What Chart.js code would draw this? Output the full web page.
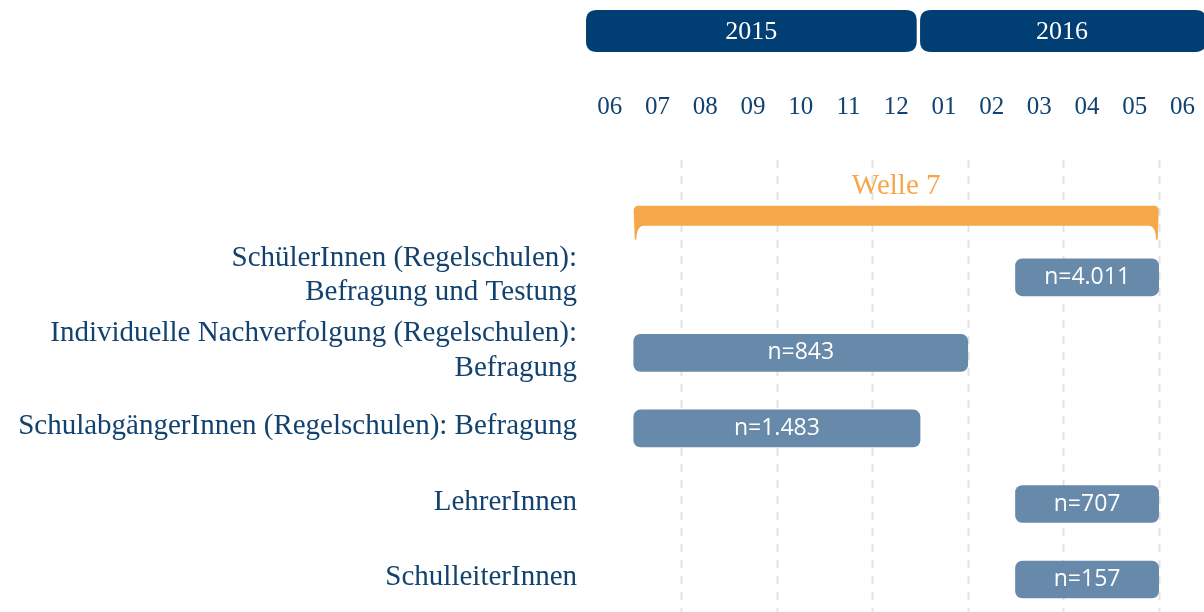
<!DOCTYPE html>
<html><head><meta charset="utf-8">
<script src="https://cdn.jsdelivr.net/npm/chart.js@4/dist/chart.umd.min.js"></script>
<style>html,body{margin:0;padding:0;background:#fff;overflow:hidden}#wrap{width:1204px;height:612px;position:relative}</style>
</head><body><div id="wrap"><canvas id="c" width="1204" height="612" style="width:1204px;height:612px"></canvas></div>
<script>
const monthLabels = ['06','07','08','09','10','11','12','01','02','03','04','05','06'];
const years = ['2015','2016'];
const yearStart = [-0.5, 6.5];
const yearEnd = [6.43, 12.5];
const categories = [
  ['SchülerInnen (Regelschulen):','Befragung und Testung'],
  ['Individuelle Nachverfolgung (Regelschulen):','Befragung'],
  'SchulabgängerInnen (Regelschulen): Befragung',
  'LehrerInnen',
  'SchulleiterInnen'
];
const barStart = [8.5, 0.5, 0.5, 8.5, 8.5];
const barEnd = [11.5, 7.5, 6.5, 11.5, 11.5];
const sampleLabels = ['n=4.011','n=843','n=1.483','n=707','n=157'];
const waveLabel = 'Welle 7';
const waveStart = [0.5];
const waveEnd = [11.5];
const gridPositions = [1.5, 3.5, 5.5, 7.5, 9.5, 11.5];

const DARK = '#003e73';
const TEXT = '#12426f';
const BAR = '#678aab';
const ORANGE = '#f5a84a';
const SERIF = '"Liberation Serif", "DejaVu Serif", serif';
const SANS = '"Open Sans", "Noto Sans", sans-serif';

function rr(ctx, x, y, w, h, r) {
  ctx.beginPath();
  ctx.moveTo(x + r, y);
  ctx.lineTo(x + w - r, y);
  ctx.quadraticCurveTo(x + w, y, x + w, y + r);
  ctx.lineTo(x + w, y + h - r);
  ctx.quadraticCurveTo(x + w, y + h, x + w - r, y + h);
  ctx.lineTo(x + r, y + h);
  ctx.quadraticCurveTo(x, y + h, x, y + h - r);
  ctx.lineTo(x, y + r);
  ctx.quadraticCurveTo(x, y, x + r, y);
  ctx.closePath();
}

function noPad(s) { s.paddingLeft = 0; s.paddingRight = 0; s.paddingTop = 0; s.paddingBottom = 0; }

const deco = {
  id: 'deco',
  beforeDatasetsDraw(chart) {
    const ctx = chart.ctx, xs = chart.scales.x, ys = chart.scales.y, ca = chart.chartArea;
    ctx.save();
    // dashed grid
    ctx.strokeStyle = '#e3e3e3';
    ctx.lineWidth = 2;
    ctx.setLineDash([8, 8]);
    gridPositions.forEach(g => {
      const x = Math.round(xs.getPixelForValue(g)) + 0.5;
      ctx.beginPath();
      ctx.moveTo(x, ca.top - 4);
      ctx.lineTo(x, ca.bottom);
      ctx.stroke();
    });
    ctx.setLineDash([]);
    // year bars
    years.forEach((yr, i) => {
      const x0 = xs.getPixelForValue(yearStart[i]);
      const x1 = xs.getPixelForValue(yearEnd[i]);
      ctx.fillStyle = DARK;
      rr(ctx, x0, 10, x1 - x0, 42, 11);
      ctx.fill();
      ctx.fillStyle = '#ffffff';
      ctx.font = '26px ' + SERIF;
      ctx.textAlign = 'center';
      ctx.textBaseline = 'middle';
      ctx.fillText(yr, (x0 + Math.min(x1, 1204)) / 2, 32);
    });
    // wave bracket
    const y0 = ys.getPixelForValue(0);
    waveStart.forEach((ws, i) => {
      const a = xs.getPixelForValue(ws), b = xs.getPixelForValue(waveEnd[i]);
      const top = y0 + 4, bot = y0 + 24, arm = y0 + 38;
      ctx.fillStyle = ORANGE;
      ctx.beginPath();
      ctx.moveTo(a + 5, top);
      ctx.lineTo(b - 5, top);
      ctx.quadraticCurveTo(b, top, b, top + 5);
      ctx.lineTo(b - 1, arm);
      ctx.lineTo(b - 2.5, arm);
      ctx.quadraticCurveTo(b - 3, bot, b - 10, bot);
      ctx.lineTo(a + 10, bot);
      ctx.quadraticCurveTo(a + 3, bot, a + 2.5, arm);
      ctx.lineTo(a + 1, arm);
      ctx.lineTo(a, top + 5);
      ctx.quadraticCurveTo(a, top, a + 5, top);
      ctx.closePath();
      ctx.fill();
      ctx.font = '29px ' + SERIF;
      ctx.textAlign = 'center';
      ctx.textBaseline = 'middle';
      ctx.fillText(waveLabel, (a + b) / 2, y0 - 15);
    });
    ctx.restore();
  },
  afterDatasetsDraw(chart) {
    const ctx = chart.ctx;
    const meta = chart.getDatasetMeta(0);
    ctx.save();
    ctx.fillStyle = '#ffffff';
    ctx.font = '23px ' + SANS;
    ctx.textAlign = 'center';
    ctx.textBaseline = 'middle';
    meta.data.forEach((el, i) => {
      const p = el.getProps(['x', 'y', 'base'], true);
      ctx.fillText(sampleLabels[i], (p.x + p.base) / 2, p.y);
    });
    ctx.restore();
  }
};

new Chart(document.getElementById('c'), {
  type: 'bar',
  data: {
    datasets: [{
      data: categories.map((c, i) => ({ x: [barStart[i], barEnd[i]], y: i + 1 })),
      backgroundColor: BAR,
      borderRadius: 7,
      borderSkipped: false,
      barThickness: 37
    }]
  },
  options: {
    indexAxis: 'y',
    responsive: false,
    animation: false,
    devicePixelRatio: 1,
    layout: { padding: 0, autoPadding: false },
    plugins: { legend: { display: false }, tooltip: { enabled: false } },
    scales: {
      x: {
        type: 'linear', position: 'top', min: -0.5, max: 12.45, offset: false,
        afterBuildTicks: s => { s.ticks = monthLabels.map((_, i) => ({ value: i })); },
        afterFit: s => { s.height = 164; noPad(s); },
        ticks: {
          callback: (v, i) => monthLabels[i],
          autoSkip: false, maxRotation: 0,
          font: { family: SERIF, size: 25 }, color: TEXT, padding: 42
        },
        grid: { display: false, drawTicks: false, offset: false },
        border: { display: false }
      },
      y: {
        type: 'linear', reverse: true, min: -0.5, max: 5.43, offset: false,
        afterBuildTicks: s => { s.ticks = categories.map((_, i) => ({ value: i + 1 })); },
        afterFit: s => { s.width = 586; noPad(s); },
        ticks: {
          callback: (v, i) => categories[i],
          autoSkip: false, labelOffset: -2,
          font: { family: SERIF, size: 29, lineHeight: 1.2 }, color: TEXT, padding: 9
        },
        grid: { display: false, drawTicks: false, offset: false },
        border: { display: false }
      }
    }
  },
  plugins: [deco]
});
</script>
</body></html>
